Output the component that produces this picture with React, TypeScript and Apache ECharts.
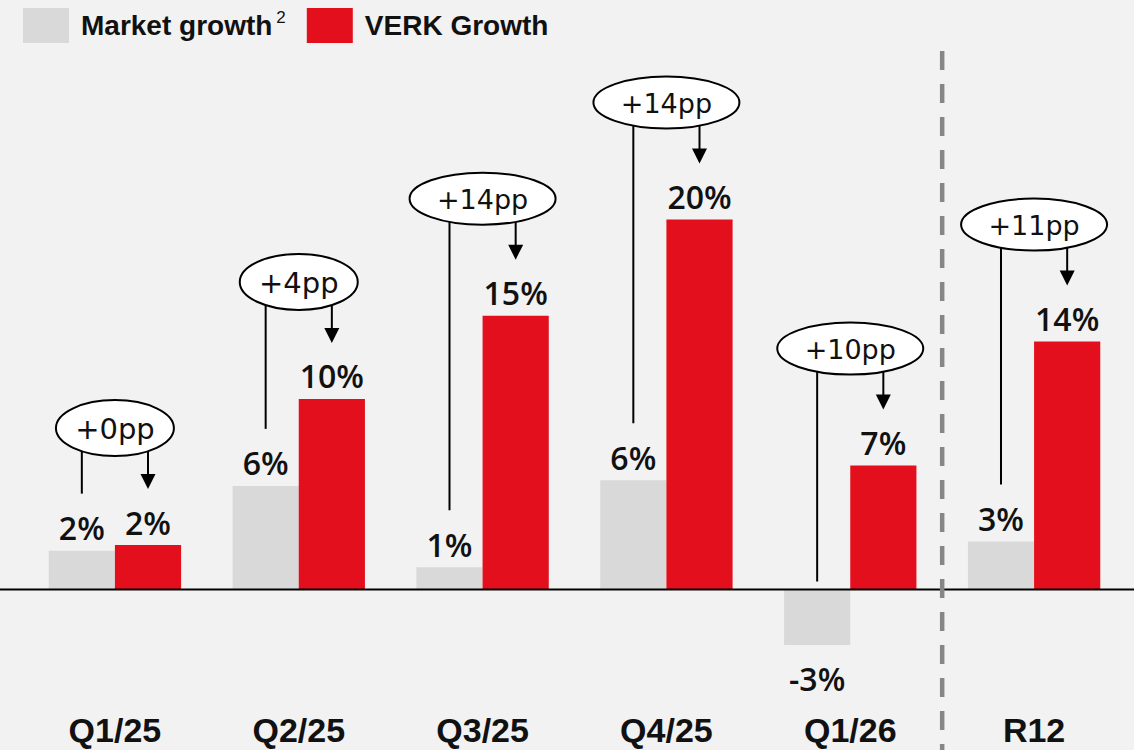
import React, { useEffect, useRef } from 'react';
import * as echarts from 'echarts';

const categories = ['Q1/25', 'Q2/25', 'Q3/25', 'Q4/25', 'Q1/26', 'R12'];
const marketGrowth = [2.1, 5.6, 1.2, 5.9, -3.0, 2.6];
const verkGrowth = [2.4, 10.3, 14.8, 20.0, 6.7, 13.4];
const marketLabels = ['2%', '6%', '1%', '6%', '-3%', '3%'];
const verkLabels = ['2%', '10%', '15%', '20%', '7%', '14%'];
const gapLabels = ['+0pp', '+4pp', '+14pp', '+14pp', '+10pp', '+11pp'];

const GREY = '#d9d9d9';
const RED = '#e30f1c';
const INK = '#111111';
const BAR_SHARE = 0.72;

export default function App() {
  const ref = useRef<HTMLDivElement>(null);

  useEffect(() => {
    if (!ref.current) return;
    const chart = echarts.init(ref.current, undefined, { renderer: 'svg' });

    const valueLabel = {
      show: true,
      position: 'top',
      distance: 7,
      fontSize: 32,
      fontWeight: 600,
      fontFamily: 'Open Sans, Liberation Sans, Arial, sans-serif',
      color: INK,
    };

    const option: any = {
      animation: false,
      backgroundColor: '#f2f2f2',
      legend: {
        left: 18,
        top: 3,
        itemWidth: 46,
        itemHeight: 35,
        itemGap: 21,
        icon: 'rect',
        selectedMode: false,
        data: [{ name: 'Market growth' }, { name: 'VERK Growth' }],
        formatter: (n: string) => (n === 'Market growth' ? `{n|${n}}{s|2}` : `{n|${n}}`),
        textStyle: {
          rich: {
            n: {
              fontSize: 28,
              lineHeight: 34,
              fontWeight: 'bold',
              fontFamily: 'Liberation Sans, Arial, sans-serif',
              color: INK,
              padding: [0, 0, 0, 7],
            },
            s: {
              fontSize: 17,
              fontFamily: 'Liberation Sans, Arial, sans-serif',
              color: INK,
              verticalAlign: 'top',
              padding: [0, 0, 0, 4],
            },
          },
        },
      },
      grid: { left: 23, right: 8, top: 34.5, bottom: 49.5, containLabel: false },
      xAxis: {
        type: 'category',
        data: categories,
        axisLine: { show: false },
        axisTick: { show: false },
        axisLabel: {
          margin: 12,
          fontSize: 34,
          fontWeight: 'bold',
          fontFamily: 'Liberation Sans, Arial, sans-serif',
          color: INK,
        },
      },
      yAxis: {
        type: 'value',
        min: -6,
        max: 30,
        show: false,
        splitLine: { show: false },
      },
      series: [
        {
          name: 'Market growth',
          type: 'bar',
          barGap: '0%',
          barCategoryGap: `${Math.round((1 - BAR_SHARE) * 100)}%`,
          itemStyle: { color: GREY },
          data: marketGrowth.map((v) =>
            v < 0
              ? { value: v, label: { position: 'bottom', distance: 17 } }
              : { value: v }
          ),
          label: { ...valueLabel, formatter: (p: any) => marketLabels[p.dataIndex] },
          z: 2,
        },
        {
          name: 'VERK Growth',
          type: 'bar',
          barGap: '0%',
          barCategoryGap: `${Math.round((1 - BAR_SHARE) * 100)}%`,
          itemStyle: { color: RED },
          data: verkGrowth,
          label: { ...valueLabel, formatter: (p: any) => verkLabels[p.dataIndex] },
          z: 2,
        },
        {
          name: 'gap',
          type: 'custom',
          clip: false,
          z: 5,
          data: categories.map((_, i) => [i, marketGrowth[i], verkGrowth[i]]),
          encode: { x: 0, y: 2 },
          renderItem: (params: any, api: any) => {
            const idx = api.value(0);
            const grey = api.value(1);
            const red = api.value(2);
            const zero = api.coord([idx, 0]);
            const cx = zero[0];
            const zy = zero[1];
            const band = api.size([1, 0])[0];
            const barW = (band * BAR_SHARE) / 2;
            const gx = cx - barW / 2;
            const rx = cx + barW / 2;
            const redTop = api.coord([idx, red])[1];
            const greyTop = api.coord([idx, grey])[1];
            const label = gapLabels[params.dataIndex];
            const wide = label.length > 4;
            const erx = wide ? 73 : 59;
            const ery = wide ? 26 : 28;
            const ey = redTop - 117;
            const leftEnd = grey >= 0 ? greyTop - 57 : zy - 8;
            const tip = redTop - 56;
            return {
              type: 'group',
              children: [
                { type: 'line', shape: { x1: gx, y1: ey, x2: gx, y2: leftEnd }, style: { stroke: '#000', lineWidth: 2 } },
                { type: 'line', shape: { x1: rx, y1: ey, x2: rx, y2: tip - 12 }, style: { stroke: '#000', lineWidth: 2 } },
                {
                  type: 'polygon',
                  shape: { points: [[rx - 7.5, tip - 15], [rx + 7.5, tip - 15], [rx, tip]] },
                  style: { fill: '#000' },
                },
                {
                  type: 'ellipse',
                  shape: { cx, cy: ey, rx: erx, ry: ery },
                  style: { fill: '#ffffff', stroke: '#000', lineWidth: 2 },
                },
                {
                  type: 'text',
                  x: cx,
                  y: ey + 1,
                  style: {
                    text: label,
                    fill: INK,
                    fontSize: wide ? 27 : 29,
                    fontFamily: 'DejaVu Sans, sans-serif',
                    align: 'center',
                    verticalAlign: 'middle',
                  },
                },
              ],
            };
          },
        },
      ],
    };

    chart.setOption(option);

    const y0 = chart.convertToPixel({ yAxisIndex: 0 }, 0) as number;
    const x4 = chart.convertToPixel({ xAxisIndex: 0 }, categories[4]) as number;
    const x5 = chart.convertToPixel({ xAxisIndex: 0 }, categories[5]) as number;
    const sepX = (x4 + x5) / 2;
    const W = chart.getWidth();
    const H = chart.getHeight();

    chart.setOption({
      graphic: [
        {
          type: 'line',
          z: 10,
          shape: { x1: 0, y1: y0, x2: W, y2: y0 },
          style: { stroke: '#000', lineWidth: 2 },
        },
        {
          type: 'line',
          z: 11,
          shape: { x1: sepX, y1: 51, x2: sepX, y2: H },
          style: { stroke: '#868686', lineWidth: 4.5, lineDash: [19, 14] },
        },
      ],
    });

    return () => chart.dispose();
  }, []);

  return (
    <div
      ref={ref}
      style={{ position: 'absolute', left: 0, top: 0, width: 1134, height: 750 }}
    />
  );
}
